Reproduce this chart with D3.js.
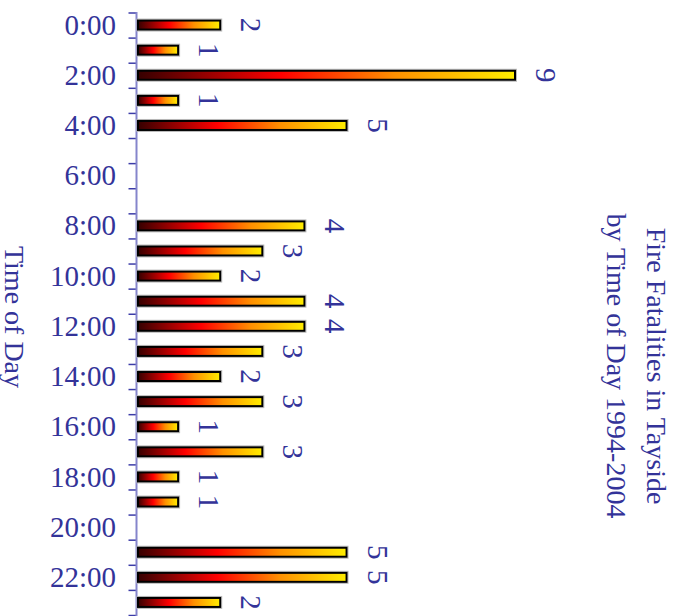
<!DOCTYPE html>
<html>
<head>
<meta charset="utf-8">
<script src="https://cdn.jsdelivr.net/npm/d3@7"></script>
<style>
  html, body { margin: 0; padding: 0; background: #fff; }
  svg { display: block; }
</style>
</head>
<body>
<svg id="chart" width="681" height="616"></svg>
<script>
// Fire fatalities per hour of the day
const hours = d3.range(24);
const hourLabels = hours.map(h => h + ":00");
const fatalities = [2, 1, 9, 1, 5, 0, 0, 0, 4, 3, 2, 4, 4, 3, 2, 3, 1, 3, 1, 1, 0, 5, 5, 2];
const titleLines = ["Fire Fatalities in Tayside", "by Time of Day 1994-2004"];
const axisTitle = "Time of Day";

const textColor = "#333399";
const font = "'Liberation Serif', 'Times New Roman', serif";

const svg = d3.select("#chart");

const y = d3.scaleBand().domain(hours).range([12.5, 615]).padding(0);
const yEdge = d3.scaleLinear().domain([0, 24]).range([12.5, 615]);
const x = d3.scaleLinear().domain([0, 9]).range([137, 516]);

// bar gradient: dark red -> red -> orange -> yellow along each bar
const defs = svg.append("defs");
const grad = defs.append("linearGradient")
  .attr("id", "hot").attr("x1", "0%").attr("x2", "100%").attr("y1", "0%").attr("y2", "0%");
[[0, "#360000"], [0.38, "#ff0000"], [0.68, "#ff9000"], [1, "#ffee00"]].forEach(([o, c]) =>
  grad.append("stop").attr("offset", o).attr("stop-color", c));

// boundary ticks between hours
const tickAxis = d3.axisLeft(yEdge).tickValues(d3.range(25)).tickSize(8).tickFormat("");
const gTicks = svg.append("g").attr("transform", "translate(136.5,0)").call(tickAxis);
gTicks.select(".domain").remove();
gTicks.selectAll(".tick line").attr("stroke", "#3c3ca8").attr("stroke-width", 1.5);

// axis line
svg.append("line")
  .attr("x1", 136.5).attr("x2", 136.5).attr("y1", 12).attr("y2", 616)
  .attr("stroke", "#8585cc").attr("stroke-width", 2);

// hour labels on even hours
const labelAxis = d3.axisLeft(y).tickSize(0).tickPadding(0)
  .tickFormat(h => h % 2 === 0 ? hourLabels[h] : "");
const gLab = svg.append("g").attr("transform", "translate(116,0)").call(labelAxis);
gLab.select(".domain").remove();
gLab.selectAll(".tick text")
  .attr("font-family", font).attr("font-size", 29).attr("fill", textColor)
  .attr("dy", "0.33em").attr("x", 0);

// bars
const data = hours.map(h => ({ h, v: fatalities[h] })).filter(d => d.v > 0);
const barH = 9;
const bars = svg.append("g");
bars.selectAll("rect.halo").data(data).join("rect")
  .attr("class", "halo")
  .attr("x", x(0)).attr("y", d => y(d.h) + y.bandwidth() / 2 - barH / 2 - 1.5)
  .attr("width", d => x(d.v) - x(0) + 0.5).attr("height", barH + 3)
  .attr("fill", "none").attr("stroke", "#bbbbbb").attr("stroke-width", 1);
bars.selectAll("rect.bar").data(data).join("rect")
  .attr("class", "bar")
  .attr("x", x(0) + 1).attr("y", d => y(d.h) + y.bandwidth() / 2 - barH / 2)
  .attr("width", d => x(d.v) - x(0) - 2).attr("height", barH)
  .attr("fill", "url(#hot)").attr("stroke", "#000").attr("stroke-width", 2);

// value labels, rotated
svg.append("g").selectAll("text").data(data).join("text")
  .attr("transform", d => `translate(${x(d.v) + 20},${y(d.h) + y.bandwidth() / 2}) rotate(90)`)
  .attr("text-anchor", "middle")
  .attr("font-family", font).attr("font-size", 29).attr("fill", textColor)
  .text(d => d.v);

// axis title
svg.append("text")
  .attr("transform", "translate(5,317) rotate(90)")
  .attr("text-anchor", "middle")
  .attr("font-family", font).attr("font-size", 28).attr("fill", textColor)
  .text(axisTitle);

// chart title, two rotated lines
const title = svg.append("text")
  .attr("transform", "translate(647,366) rotate(90)")
  .attr("text-anchor", "middle")
  .attr("font-family", font).attr("font-size", 28).attr("fill", textColor);
titleLines.forEach((t, i) =>
  title.append("tspan").attr("x", 0).attr("y", i * 40).text(t));
</script>
</body>
</html>
